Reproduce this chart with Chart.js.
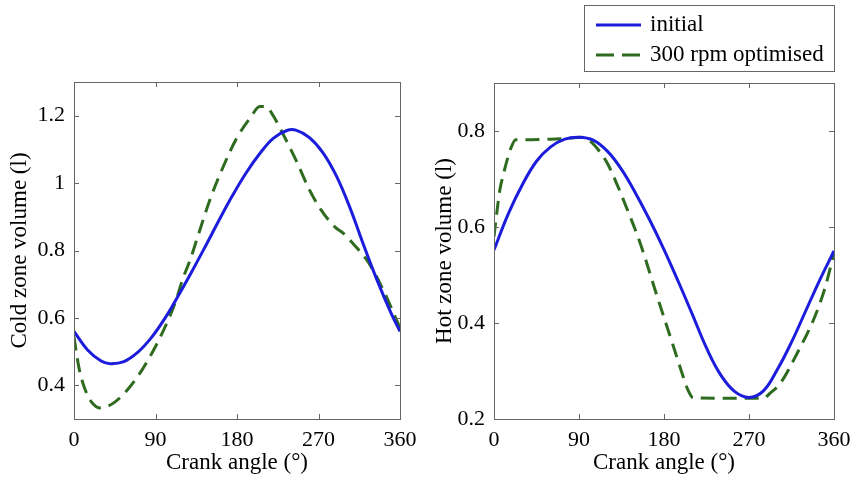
<!DOCTYPE html>
<html>
<head>
<meta charset="utf-8">
<script src="https://cdn.jsdelivr.net/npm/chart.js@4.4.1/dist/chart.umd.min.js"></script>
<style>
  html, body { margin: 0; padding: 0; background: #fff; }
  #wrap { position: relative; width: 853px; height: 477px; overflow: hidden; }
  canvas { position: absolute; top: 0; }
  #cold { left: 0; }
  #hot { left: 420px; }
</style>
</head>
<body>
<div id="wrap">
  <canvas id="cold" width="430" height="477"></canvas>
  <canvas id="hot" width="444" height="477"></canvas>
</div>
<script>
// tick labels
var xTicks = [0, 90, 180, 270, 360];
var coldTicks = [0.4, 0.6, 0.8, 1, 1.2];
var hotTicks = [0.2, 0.4, 0.6, 0.8];
var seriesNames = ['initial', '300 rpm optimised'];

// cold zone, initial
var coldInitialAngle = [0, 15, 30, 40, 55, 70, 85, 100, 115, 130, 145, 160, 175, 190, 205, 220, 235, 245, 260, 275, 290, 305, 320, 335, 350, 360];
var coldInitialVol = [0.56, 0.505, 0.472, 0.464, 0.47, 0.497, 0.54, 0.597, 0.665, 0.737, 0.812, 0.889, 0.963, 1.03, 1.087, 1.133, 1.156, 1.157, 1.135, 1.09, 1.02, 0.925, 0.815, 0.71, 0.615, 0.56];

// cold zone, 300 rpm optimised
var coldOptAngle = [0, 3, 6, 10, 15, 20, 28, 35, 45, 60, 75, 90, 105, 113, 120, 128, 139, 150, 165, 180, 195, 205, 212, 220, 230, 245, 260, 273, 288, 297, 310, 325, 343, 360];
var coldOptVol = [0.545, 0.49, 0.445, 0.405, 0.37, 0.348, 0.333, 0.336, 0.35, 0.39, 0.445, 0.515, 0.6, 0.655, 0.715, 0.77, 0.861, 0.95, 1.05, 1.135, 1.195, 1.227, 1.227, 1.2, 1.15, 1.069, 0.98, 0.92, 0.87, 0.852, 0.815, 0.765, 0.674, 0.57];

// hot zone, initial
var hotInitialAngle = [0, 15, 30, 45, 60, 75, 90, 105, 120, 135, 150, 165, 180, 195, 210, 225, 240, 255, 270, 285, 300, 315, 330, 345, 360];
var hotInitialVol = [0.552, 0.627, 0.688, 0.737, 0.767, 0.783, 0.787, 0.781, 0.758, 0.72, 0.67, 0.614, 0.553, 0.487, 0.418, 0.348, 0.292, 0.257, 0.245, 0.258, 0.303, 0.36, 0.425, 0.49, 0.55];

// hot zone, 300 rpm optimised
var hotOptAngle = [0, 3, 6, 10, 13, 18, 23, 40, 60, 80, 92, 100, 110, 120, 130, 140, 155, 172, 190, 200, 205, 211, 285, 293, 303, 321, 339, 350, 360];
var hotOptVol = [0.58, 0.63, 0.675, 0.71, 0.733, 0.765, 0.782, 0.782, 0.783, 0.785, 0.787, 0.782, 0.762, 0.733, 0.69, 0.642, 0.565, 0.46, 0.351, 0.29, 0.262, 0.244, 0.243, 0.255, 0.274, 0.337, 0.41, 0.47, 0.545];

var blue = '#1c1cdc';
var green = '#2e6b1f';
var frameColor = '#666';
var serif = '"Liberation Serif", "Times New Roman", serif';

function pts(angles, vols) {
    return angles.map(function (a, i) { return {x: a, y: vols[i]}; });
}

function makeDatasets(initA, initV, optA, optV) {
    return [
        {label: seriesNames[0], data: pts(initA, initV), borderColor: blue, borderWidth: 3,
         pointRadius: 0, fill: false, tension: 0.4},
        {label: seriesNames[1], data: pts(optA, optV), borderColor: green, borderWidth: 3,
         borderDash: [14, 8], pointRadius: 0, fill: false, cubicInterpolationMode: 'monotone'}
    ];
}

// box round the plot with inward ticks on all four sides
var framePlugin = {
    id: 'frame',
    afterDatasetsDraw: function (chart) {
        var ctx = chart.ctx, a = chart.chartArea;
        var xs = chart.scales.x, ys = chart.scales.y;
        ctx.save();
        ctx.strokeStyle = frameColor;
        ctx.lineWidth = 1;
        ctx.beginPath();
        xs.ticks.forEach(function (t) {
            var px = Math.round(xs.getPixelForValue(t.value)) + 0.5;
            ctx.moveTo(px, a.bottom); ctx.lineTo(px, a.bottom - 5);
            ctx.moveTo(px, a.top); ctx.lineTo(px, a.top + 5);
        });
        ys.ticks.forEach(function (t) {
            var py = Math.round(ys.getPixelForValue(t.value)) + 0.5;
            ctx.moveTo(a.left, py); ctx.lineTo(a.left + 5, py);
            ctx.moveTo(a.right, py); ctx.lineTo(a.right - 5, py);
        });
        ctx.stroke();
        ctx.strokeRect(Math.round(a.left) + 0.5, Math.round(a.top) + 0.5,
                       Math.round(a.right - a.left), Math.round(a.bottom - a.top));
        ctx.restore();
    }
};

var legendPlugin = {
    id: 'legendBox',
    afterDraw: function (chart) {
        var ctx = chart.ctx;
        ctx.save();
        ctx.fillStyle = '#fff';
        ctx.fillRect(164.5, 5.5, 250, 66);
        ctx.strokeStyle = frameColor;
        ctx.lineWidth = 1;
        ctx.strokeRect(164.5, 5.5, 250, 66);
        chart.data.datasets.forEach(function (ds, i) {
            var y = 25 + i * 30;
            ctx.strokeStyle = ds.borderColor;
            ctx.lineWidth = ds.borderWidth;
            ctx.setLineDash(ds.borderDash ? [18, 8] : []);
            ctx.beginPath();
            ctx.moveTo(176, y);
            ctx.lineTo(221, y);
            ctx.stroke();
            ctx.setLineDash([]);
            ctx.fillStyle = '#000';
            ctx.font = '23px ' + serif;
            ctx.textBaseline = 'middle';
            ctx.fillText(ds.label, 230, y);
        });
        ctx.restore();
    }
};

function fmt(v) { return String(+Number(v).toFixed(2)); }

function makeChart(id, datasets, yTitle, yMin, yMax, yTicks, pad, titlePad, plugins) {
    return new Chart(document.getElementById(id).getContext('2d'), {
        type: 'line',
        data: {datasets: datasets},
        plugins: plugins,
        options: {
            responsive: false,
            animation: false,
            devicePixelRatio: 1,
            layout: {padding: pad},
            plugins: {legend: {display: false}, tooltip: {enabled: false}},
            scales: {
                x: {
                    type: 'linear', min: 0, max: 360,
                    afterBuildTicks: function (s) { s.ticks = xTicks.map(function (v) { return {value: v}; }); },
                    afterFit: function (s) { s.height = 58; },
                    grid: {display: false, drawTicks: false},
                    border: {display: false},
                    ticks: {color: '#000', padding: 8, maxRotation: 0, font: {family: serif, size: 22},
                            callback: fmt},
                    title: {display: true, text: 'Crank angle (°)', color: '#000',
                            font: {family: serif, size: 23}, padding: {top: 0, bottom: 0}}
                },
                y: {
                    type: 'linear', min: yMin, max: yMax,
                    afterBuildTicks: function (s) { s.ticks = yTicks.map(function (v) { return {value: v}; }); },
                    afterFit: function (s) { s.width = 74; },
                    grid: {display: false, drawTicks: false},
                    border: {display: false},
                    ticks: {color: '#000', padding: 9, font: {family: serif, size: 22}, callback: fmt},
                    title: {display: true, text: yTitle, color: '#000',
                            font: {family: serif, size: 23}, padding: {top: titlePad, bottom: 0}}
                }
            }
        }
    });
}

makeChart('cold', makeDatasets(coldInitialAngle, coldInitialVol, coldOptAngle, coldOptVol),
          'Cold zone volume (l)', 0.3, 1.3, coldTicks,
          {top: 82, right: 30, bottom: 0, left: 0}, 6, [framePlugin]);

makeChart('hot', makeDatasets(hotInitialAngle, hotInitialVol, hotOptAngle, hotOptVol),
          'Hot zone volume (l)', 0.2, 0.9, hotTicks,
          {top: 83, right: 30, bottom: 0, left: 0}, 11, [framePlugin, legendPlugin]);
</script>
</body>
</html>
